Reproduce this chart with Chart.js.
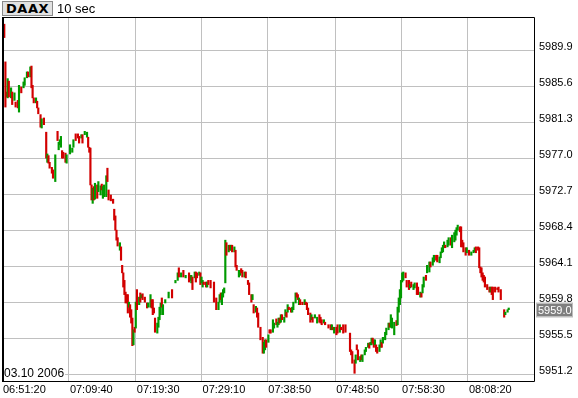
<!DOCTYPE html>
<html>
<head>
<meta charset="utf-8">
<script src="https://cdn.jsdelivr.net/npm/chart.js@4.4.1/dist/chart.umd.min.js"></script>
<style>
html, body { margin: 0; padding: 0; background: #fff; }
#wrap { position: relative; width: 578px; height: 398px; }
#sym {
    position: absolute; left: 2px; top: 1px; width: 49px; height: 13px;
    background: #e2e2e2; border: 1px solid #8a8a8a;
    font: bold 13px "DejaVu Sans", sans-serif; line-height: 13px; letter-spacing: 0.5px;
    text-align: center; color: #000;
}
#per {
    position: absolute; left: 57px; top: 1px;
    font: 13px "Liberation Sans", Arial, sans-serif; line-height: 15px; color: #000;
}
</style>
</head>
<body>
<div id="wrap">
    <canvas id="chart" width="578" height="398"></canvas>
    <div id="sym">DAAX</div>
    <div id="per">10 sec</div>
</div>
<script>
// 10 second bars, numbered in trading order (gaps in time are skipped)
const barSeq = [
    2, 3, 4, 5, 6, 8, 9, 11, 12, 14,
    15, 17, 19, 20, 22, 23, 25, 26, 27, 28,
    30, 31, 32, 34, 35, 37, 39, 40, 41, 42,
    44, 45, 47, 49, 50, 51, 52, 53, 54, 56,
    57, 60, 62, 63, 65, 67, 68, 70, 71, 73,
    75, 76, 77, 78, 79, 80, 81, 82, 84, 85,
    87, 88, 89, 90, 92, 93, 94, 96, 98, 99,
    100, 101, 102, 104, 105, 106, 107, 108, 109, 110,
    111, 112, 113, 114, 115, 116, 117, 118, 119, 121,
    122, 123, 124, 126, 128, 129, 131, 132, 133, 134,
    135, 137, 138, 139, 140, 141, 142, 144, 147, 150,
    153, 155, 156, 158, 160, 162, 165, 166, 167, 168,
    170, 171, 172, 174, 175, 176, 177, 178, 180, 181,
    182, 184, 187, 189, 191, 192, 193, 194, 195, 196,
    197, 198, 200, 201, 202, 203, 205, 206, 207, 209,
    210, 211, 212, 214, 215, 217, 218, 220, 221, 222,
    224, 225, 226, 228, 230, 231, 232, 233, 235, 236,
    237, 239, 240, 242, 243, 244, 245, 246, 247, 249,
    250, 251, 252, 253, 255, 256, 257, 259, 260, 261,
    262, 263, 265, 267, 268, 269, 270, 272, 273, 274,
    276, 278, 280, 281, 282, 284, 285, 288, 290, 291,
    292, 293, 295, 296, 298, 299, 301, 303, 307, 308,
    309, 311, 312, 313, 314, 316, 317, 318, 320, 321,
    323, 324, 325, 326, 327, 328, 329, 330, 331, 333,
    334, 335, 336, 338, 339, 341, 342, 343, 344, 346,
    348, 349, 350, 351, 352, 353, 354, 356, 357, 359,
    360, 361, 363, 364, 366, 367, 369, 370, 371, 372,
    374, 375, 377, 378, 380, 381, 383, 384, 386, 387,
    388, 389, 390, 391, 393, 394, 396, 397, 399, 400,
    401, 402, 404, 405, 406, 407, 409, 410, 412, 414,
    416, 417, 418, 420, 421, 422, 423, 424, 425, 426,
    428, 430, 431, 432, 433, 435, 437, 438, 440, 443,
    444, 446, 447
];
const barHigh = [
    5993.1, 5988.6, 5985.0, 5986.6, 5986.3, 5985.5, 5985.0, 5984.9, 5983.8, 5984.0,
    5985.8, 5985.6, 5986.2, 5986.7, 5987.4, 5987.4, 5988.0, 5988.1, 5985.8, 5984.3,
    5984.3, 5983.9, 5983.1, 5982.3, 5981.8, 5981.9, 5980.2, 5977.6, 5977.4, 5976.6,
    5976.0, 5975.7, 5977.5, 5980.3, 5979.0, 5979.3, 5979.7, 5978.0, 5977.8, 5977.7,
    5977.5, 5978.7, 5978.3, 5979.3, 5980.0, 5980.0, 5979.7, 5979.9, 5979.9, 5980.3,
    5980.2, 5979.6, 5978.4, 5978.3, 5973.9, 5973.5, 5973.7, 5974.1, 5973.9, 5974.3,
    5973.8, 5974.0, 5973.7, 5973.9, 5975.0, 5975.9, 5973.3, 5972.7, 5972.2, 5971.0,
    5970.2, 5968.5, 5967.6, 5967.0, 5966.5, 5964.3, 5963.4, 5962.5, 5961.1, 5960.8,
    5960.8, 5959.9, 5959.6, 5959.0, 5958.0, 5956.6, 5956.9, 5959.9, 5961.4, 5960.5,
    5961.0, 5960.8, 5960.9, 5960.5, 5959.8, 5959.8, 5960.8, 5960.2, 5960.2, 5959.2,
    5958.0, 5957.4, 5958.1, 5959.3, 5959.8, 5960.4, 5959.6, 5960.2, 5961.1, 5961.4,
    5962.5, 5963.4, 5964.0, 5963.4, 5963.7, 5963.1, 5963.4, 5963.1, 5963.1, 5962.9,
    5963.5, 5963.5, 5963.4, 5963.5, 5963.4, 5962.9, 5962.5, 5962.3, 5962.3, 5962.3,
    5962.5, 5962.5, 5962.3, 5960.4, 5959.9, 5960.8, 5961.0, 5961.0, 5961.4, 5961.6,
    5967.3, 5967.0, 5966.7, 5966.7, 5966.7, 5966.7, 5966.5, 5966.1, 5964.3, 5963.7,
    5963.7, 5963.9, 5963.7, 5963.5, 5963.5, 5962.5, 5962.2, 5960.8, 5960.8, 5959.6,
    5959.4, 5959.2, 5958.6, 5956.9, 5955.7, 5955.1, 5955.4, 5955.4, 5956.0, 5956.6,
    5956.6, 5957.8, 5957.4, 5957.9, 5957.5, 5958.0, 5958.0, 5958.4, 5958.4, 5958.1,
    5959.0, 5958.7, 5959.6, 5959.3, 5959.2, 5959.3, 5959.9, 5961.0, 5961.0, 5960.8,
    5960.4, 5960.2, 5959.9, 5960.2, 5959.9, 5959.8, 5959.2, 5958.6, 5958.4, 5958.1,
    5958.4, 5958.1, 5958.4, 5958.1, 5957.8, 5957.8, 5957.5, 5957.2, 5957.2, 5957.2,
    5956.9, 5956.9, 5956.9, 5957.2, 5957.2, 5956.9, 5957.2, 5957.2, 5956.2, 5954.2,
    5954.0, 5953.0, 5953.6, 5954.8, 5954.2, 5953.4, 5953.6, 5953.6, 5954.2, 5954.5,
    5955.0, 5955.0, 5955.1, 5955.6, 5955.6, 5955.4, 5955.4, 5954.8, 5954.5, 5954.8,
    5955.4, 5955.1, 5955.7, 5956.3, 5956.8, 5957.4, 5957.4, 5958.4, 5958.0, 5957.5,
    5957.7, 5959.3, 5960.4, 5961.4, 5962.5, 5963.4, 5963.5, 5963.4, 5962.5, 5962.5,
    5962.0, 5962.3, 5962.0, 5962.2, 5962.2, 5961.7, 5961.1, 5961.0, 5962.0, 5962.9,
    5963.1, 5964.3, 5964.7, 5964.7, 5965.2, 5965.5, 5965.5, 5965.5, 5965.3, 5965.9,
    5966.4, 5966.7, 5967.1, 5966.7, 5967.3, 5967.6, 5967.6, 5967.9, 5968.2, 5968.5,
    5968.8, 5969.1, 5968.9, 5968.9, 5967.3, 5967.0, 5966.4, 5966.4, 5966.1, 5965.9,
    5966.1, 5966.4, 5966.5, 5966.5, 5966.4, 5964.1, 5964.0, 5963.4, 5963.1, 5962.9,
    5962.0, 5961.7, 5961.7, 5961.7, 5961.7, 5961.7, 5961.6, 5961.7, 5961.4, 5959.0,
    5958.7, 5959.0, 5959.2
];
const barLow = [
    5991.5, 5983.2, 5984.4, 5984.3, 5984.4, 5984.3, 5983.5, 5984.0, 5983.2, 5983.1,
    5982.6, 5984.9, 5985.5, 5985.8, 5986.7, 5986.8, 5986.8, 5985.5, 5984.3, 5983.7,
    5983.7, 5983.1, 5982.4, 5980.8, 5980.7, 5981.1, 5977.1, 5976.6, 5976.5, 5975.9,
    5975.3, 5974.7, 5974.3, 5979.2, 5978.1, 5978.7, 5978.4, 5977.1, 5977.1, 5976.6,
    5976.5, 5977.6, 5977.8, 5978.4, 5979.2, 5979.5, 5978.9, 5979.5, 5978.9, 5979.9,
    5979.6, 5978.4, 5977.8, 5973.9, 5972.1, 5971.7, 5972.1, 5972.2, 5972.3, 5973.1,
    5972.7, 5973.3, 5972.3, 5972.5, 5972.5, 5974.3, 5972.1, 5972.0, 5971.7, 5969.7,
    5968.5, 5967.3, 5966.6, 5966.1, 5964.9, 5963.4, 5961.7, 5960.8, 5959.8, 5959.8,
    5958.6, 5959.3, 5958.1, 5957.4, 5954.7, 5954.8, 5956.3, 5956.8, 5959.0, 5959.6,
    5959.9, 5960.4, 5960.2, 5959.9, 5959.2, 5959.3, 5959.3, 5959.2, 5958.4, 5958.6,
    5956.3, 5956.2, 5956.9, 5957.8, 5958.4, 5959.3, 5958.4, 5959.8, 5960.4, 5960.4,
    5962.2, 5962.5, 5962.9, 5962.9, 5962.9, 5962.8, 5962.3, 5962.5, 5962.2, 5961.4,
    5962.8, 5962.3, 5962.8, 5963.1, 5962.0, 5962.2, 5961.7, 5962.0, 5961.7, 5961.7,
    5962.0, 5961.6, 5959.9, 5959.0, 5959.0, 5959.9, 5960.2, 5959.6, 5960.5, 5961.0,
    5962.2, 5965.5, 5965.9, 5966.1, 5966.1, 5965.9, 5965.9, 5964.1, 5963.7, 5962.9,
    5963.1, 5963.4, 5962.9, 5962.9, 5962.8, 5962.0, 5960.8, 5959.9, 5960.2, 5958.6,
    5958.7, 5958.1, 5956.9, 5955.4, 5953.8, 5953.8, 5954.2, 5954.5, 5955.1, 5956.2,
    5956.2, 5956.3, 5956.8, 5957.2, 5956.9, 5957.2, 5957.4, 5957.5, 5957.8, 5957.5,
    5958.2, 5958.1, 5958.7, 5959.0, 5958.7, 5958.7, 5959.0, 5959.8, 5960.5, 5960.2,
    5959.6, 5959.6, 5959.6, 5959.6, 5959.6, 5959.0, 5958.4, 5957.5, 5957.8, 5957.5,
    5958.0, 5957.4, 5957.5, 5957.4, 5957.2, 5957.4, 5957.2, 5956.8, 5956.6, 5956.6,
    5956.6, 5956.2, 5956.0, 5956.2, 5956.3, 5956.6, 5956.2, 5956.3, 5954.0, 5953.6,
    5952.6, 5951.4, 5952.6, 5954.2, 5953.0, 5952.8, 5953.0, 5952.8, 5953.6, 5954.0,
    5954.5, 5954.4, 5954.8, 5954.8, 5955.0, 5954.5, 5954.8, 5954.0, 5953.8, 5954.0,
    5954.5, 5954.5, 5955.0, 5955.4, 5956.0, 5956.6, 5956.9, 5956.9, 5956.8, 5956.0,
    5957.1, 5957.2, 5958.7, 5959.6, 5960.4, 5962.3, 5962.5, 5962.8, 5961.7, 5961.4,
    5961.6, 5961.7, 5961.4, 5961.6, 5960.8, 5960.8, 5960.5, 5960.5, 5961.0, 5961.7,
    5962.5, 5963.4, 5963.5, 5964.1, 5964.3, 5964.7, 5964.9, 5964.7, 5964.6, 5965.2,
    5965.8, 5965.9, 5966.4, 5966.4, 5966.5, 5966.7, 5966.7, 5966.4, 5967.1, 5967.3,
    5967.9, 5968.5, 5968.3, 5966.5, 5966.5, 5965.9, 5965.5, 5965.8, 5965.5, 5965.5,
    5965.8, 5965.9, 5965.8, 5966.1, 5964.0, 5963.4, 5962.9, 5962.5, 5962.3, 5961.7,
    5961.4, 5961.1, 5961.1, 5960.8, 5960.2, 5961.1, 5961.4, 5961.1, 5960.2, 5958.1,
    5958.4, 5958.7, 5959.0
];
// 1 = closed higher (green), 0 = closed lower (red)
const barUp = [
    0, 0, 0, 1, 0, 1, 0, 1, 0, 0,
    1, 0, 1, 1, 1, 0, 1, 0, 0, 0,
    1, 0, 0, 0, 1, 0, 0, 1, 0, 0,
    0, 0, 1, 0, 1, 1, 1, 0, 0, 0,
    1, 1, 1, 1, 0, 0, 0, 1, 0, 1,
    1, 0, 0, 0, 0, 1, 0, 1, 0, 1,
    1, 0, 1, 1, 1, 0, 0, 0, 0, 0,
    0, 0, 0, 1, 0, 0, 0, 0, 0, 0,
    0, 1, 0, 0, 0, 1, 0, 1, 0, 1,
    0, 1, 0, 0, 0, 1, 1, 0, 0, 0,
    0, 1, 1, 1, 1, 0, 1, 1, 1, 0,
    1, 1, 0, 1, 0, 1, 0, 0, 1, 0,
    1, 0, 0, 1, 0, 1, 1, 0, 0, 1,
    0, 0, 0, 0, 1, 1, 0, 1, 1, 1,
    1, 0, 1, 0, 1, 0, 1, 0, 0, 1,
    1, 0, 0, 1, 0, 0, 0, 0, 1, 0,
    1, 0, 0, 0, 0, 1, 1, 0, 1, 0,
    0, 1, 1, 0, 1, 1, 0, 1, 0, 1,
    1, 0, 1, 0, 0, 1, 1, 1, 0, 0,
    1, 0, 0, 1, 0, 0, 0, 0, 1, 0,
    1, 1, 0, 0, 0, 1, 0, 0, 0, 1,
    0, 1, 0, 0, 1, 0, 0, 0, 0, 0,
    0, 0, 1, 0, 0, 1, 0, 1, 1, 1,
    1, 0, 1, 1, 0, 0, 1, 0, 0, 1,
    1, 0, 1, 1, 1, 1, 0, 1, 1, 1,
    0, 1, 1, 1, 1, 1, 1, 0, 0, 0,
    1, 0, 1, 1, 0, 0, 1, 0, 1, 1,
    0, 1, 1, 0, 1, 1, 0, 0, 1, 1,
    1, 1, 1, 0, 1, 1, 0, 1, 1, 1,
    1, 1, 0, 0, 0, 0, 0, 1, 0, 1,
    1, 1, 0, 0, 0, 0, 0, 0, 0, 0,
    0, 0, 1, 0, 0, 0, 0, 0, 0, 0,
    1, 1, 1
];

const priceTicks = [5951.2, 5955.5, 5959.8, 5964.1, 5968.4, 5972.7, 5977.0, 5981.3, 5985.6, 5989.9];
const timeTickSeq = [0, 59, 118, 176, 234, 294, 352, 411];
const timeTickLabels = ['06:51:20', '07:09:40', '07:19:30', '07:29:10', '07:38:50', '07:48:50', '07:58:30', '08:08:20'];
const lastPrice = 5959.0;
const dateText = '03.10 2006';

const UP = '#009a00';
const DOWN = '#d20000';
const GRID = '#c0c0c0';
const FONT = '"Liberation Sans", Arial, sans-serif';

var bars = barSeq.map(function (s, i) { return { x: s, y: [barLow[i], barHigh[i]] }; });

// frame, date stamp and last price box
var extras = {
    id: 'extras',
    afterDraw: function (chart) {
        var c = chart.ctx, a = chart.chartArea;
        c.save();
        // date in lower left corner of the plot
        c.font = '12px ' + FONT;
        c.textBaseline = 'middle';
        var w = c.measureText(dateText).width;
        c.fillStyle = '#fff';
        c.fillRect(a.left + 1, a.bottom - 14, w + 2, 13);
        c.fillStyle = '#000';
        c.fillText(dateText, a.left + 2, a.bottom - 7.5);

        // frame
        c.strokeStyle = '#000';
        c.lineWidth = 1;
        c.beginPath();
        c.moveTo(a.left, a.top + 0.5);
        c.lineTo(a.right + 0.5, a.top + 0.5);
        c.lineTo(a.right + 0.5, a.bottom + 0.5);
        c.lineTo(a.left, a.bottom + 0.5);
        c.stroke();
        c.lineWidth = 2;
        c.beginPath();
        c.moveTo(a.left + 1, a.top);
        c.lineTo(a.left + 1, a.bottom + 1);
        c.stroke();

        // last price marker
        var y = chart.scales.y.getPixelForValue(lastPrice);
        c.fillStyle = '#7f7f7f';
        c.fillRect(a.right + 3, Math.round(y) - 6.5, 35, 13);
        c.strokeStyle = '#bdbdbd';
        c.lineWidth = 1;
        c.strokeRect(a.right + 2.5, Math.round(y) - 7, 36, 14);
        c.fillStyle = '#fff';
        c.font = '11px ' + FONT;
        c.textBaseline = 'middle';
        c.fillText(lastPrice.toFixed(1), a.right + 4, Math.round(y) + 0.5);
        c.restore();
    }
};

var ctx = document.getElementById('chart').getContext('2d');
var chart = new Chart(ctx, {
    type: 'bar',
    data: {
        datasets: [{
            data: bars,
            backgroundColor: barUp.map(function (u) { return u ? UP : DOWN; }),
            borderWidth: 0,
            barThickness: 1.5,
            grouped: false
        }]
    },
    options: {
        responsive: false,
        animation: false,
        layout: { padding: { left: 2, top: 17, right: 0, bottom: 0 } },
        plugins: {
            legend: { display: false },
            tooltip: { enabled: false }
        },
        scales: {
            x: {
                type: 'linear',
                min: 0,
                max: 469.3,
                offset: false,
                grid: { color: GRID, drawTicks: false, offset: false },
                border: { display: false },
                afterBuildTicks: function (s) {
                    s.ticks = timeTickSeq.map(function (v) { return { value: v }; });
                },
                afterFit: function (s) { s.height = 17; },
                ticks: {
                    autoSkip: false,
                    maxRotation: 0,
                    align: 'start',
                    labelOffset: 1,
                    padding: 2,
                    color: '#000',
                    font: { family: FONT, size: 11 },
                    callback: function (v, i) { return timeTickLabels[i]; }
                }
            },
            y: {
                position: 'right',
                min: 5950.48,
                max: 5993.96,
                grid: { color: GRID, drawTicks: false },
                border: { display: false },
                afterBuildTicks: function (s) {
                    s.ticks = priceTicks.map(function (v) { return { value: v }; });
                },
                afterFit: function (s) { s.width = 44; },
                ticks: {
                    padding: 5,
                    labelOffset: -4,
                    color: '#000',
                    font: { family: FONT, size: 11 },
                    callback: function (v) { return v.toFixed(1); }
                }
            }
        }
    },
    plugins: [extras]
});
</script>
</body>
</html>
